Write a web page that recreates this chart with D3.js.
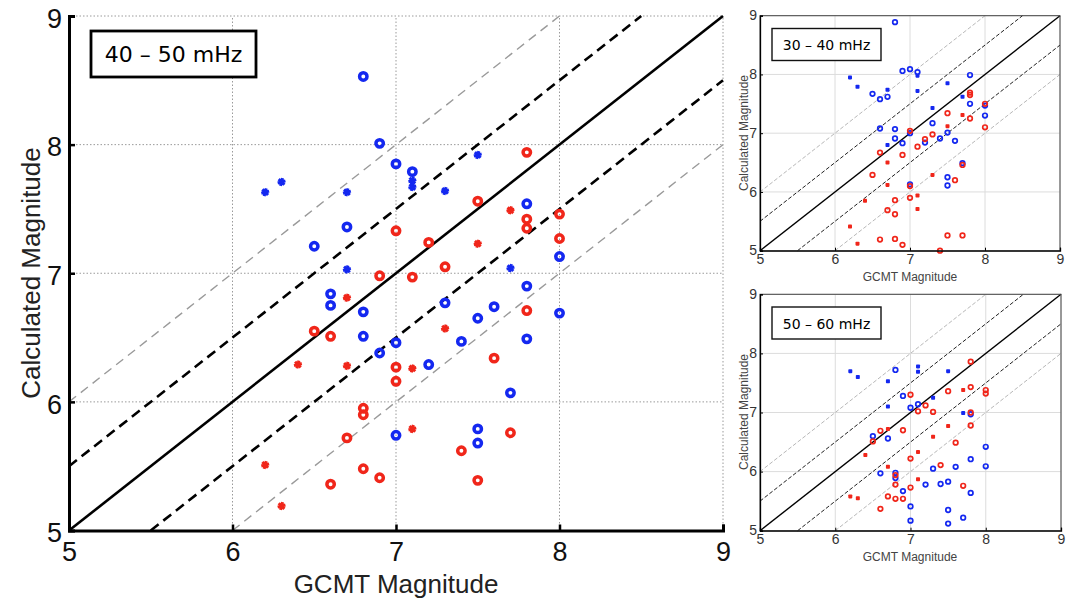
<!DOCTYPE html>
<html><head><meta charset="utf-8">
<script src="https://cdn.jsdelivr.net/npm/d3@7"></script>
<style>body{margin:0;background:#fff}svg{display:block}</style>
</head><body>
<svg id="c" width="1077" height="602"></svg>
<script>
// ---------- data ----------
const tickValues = [5, 6, 7, 8, 9];
const gridValues = [6, 7, 8, 9];
const refOffsets = [0, 0.5, -0.5, 1, -1];
const xLabel = "GCMT Magnitude";
const yLabel = "Calculated Magnitude";
const bandLabels = ["40 \u2013 50 mHz", "30 \u2013 40 mHz", "50 \u2013 60 mHz"];

// 40-50 mHz (main)
const mainBlueRing = [[6.8,8.53],[6.9,8.01],[7.0,7.85],[7.1,7.79],[6.7,7.36],[6.5,7.21],[7.8,7.54],[8.0,7.13],[6.6,6.84],[6.6,6.75],[6.8,6.70],[6.8,6.51],[7.0,6.46],[6.9,6.38],[7.8,6.90],[7.3,6.77],[7.6,6.74],[8.0,6.69],[7.5,6.65],[7.4,6.47],[7.8,6.49],[7.2,6.29],[7.7,6.07],[7.0,5.74],[7.5,5.79],[7.5,5.68]];
const mainBlueStar = [[6.2,7.63],[6.3,7.71],[6.7,7.63],[7.1,7.72],[7.1,7.67],[7.5,7.92],[7.3,7.64],[6.7,7.03],[7.7,7.04]];
const mainRedRing = [[7.0,7.33],[6.9,6.98],[7.8,7.94],[7.5,7.56],[7.8,7.42],[7.8,7.35],[8.0,7.46],[7.2,7.24],[8.0,7.27],[7.3,7.05],[7.1,6.97],[6.5,6.55],[6.6,6.51],[7.0,6.27],[7.0,6.16],[6.8,5.95],[6.8,5.90],[6.7,5.72],[6.8,5.48],[6.9,5.41],[6.6,5.36],[7.8,6.71],[7.6,6.34],[7.7,5.76],[7.4,5.62],[7.5,5.39]];
const mainRedStar = [[7.7,7.49],[7.5,7.23],[6.7,6.81],[6.4,6.29],[6.7,6.28],[6.2,5.51],[6.3,5.19],[7.3,6.57],[7.1,6.26],[7.1,5.79]];

// 30-40 mHz (top right)
const topBlueRing = [[6.8,8.89],[6.9,8.06],[7.0,8.09],[7.1,8.04],[7.8,7.99],[6.5,7.67],[6.6,7.58],[6.7,7.62],[7.8,7.50],[8.0,7.47],[8.0,7.30],[6.6,7.08],[6.8,7.07],[7.0,7.00],[6.8,6.91],[6.9,6.83],[7.2,6.84],[7.3,7.17],[7.4,6.91],[7.5,7.01],[7.6,6.87],[7.7,6.49],[7.5,6.25],[7.5,6.11],[7.0,6.13]];
const topBlueDot = [[6.2,7.95],[6.3,7.79],[6.7,7.74],[7.1,7.98],[7.1,7.72],[7.5,7.85],[7.3,7.43],[7.7,7.62],[6.7,6.80]];
const topRedRing = [[7.8,7.69],[7.8,7.65],[8.0,7.50],[7.5,7.34],[7.8,7.25],[8.0,7.10],[7.0,7.04],[7.3,6.98],[7.2,6.90],[7.1,6.77],[6.6,6.67],[6.9,6.63],[7.7,6.46],[6.5,6.29],[7.6,6.20],[7.0,6.10],[7.0,5.90],[6.8,5.86],[6.7,5.69],[6.8,5.62],[6.6,5.19],[6.8,5.20],[6.9,5.10],[7.5,5.26],[7.7,5.26],[7.4,5.00]];
const topRedDot = [[7.5,7.12],[7.7,7.31],[6.7,6.50],[7.3,6.29],[6.7,6.12],[6.4,5.85],[7.1,5.94],[7.1,5.71],[6.2,5.41],[6.3,5.12]];

// 50-60 mHz (bottom right)
const botBlueRing = [[6.8,7.72],[6.9,7.28],[7.0,7.08],[7.1,7.14],[6.5,6.60],[6.7,6.56],[7.8,6.97],[8.0,6.42],[8.0,6.09],[7.8,6.21],[7.6,6.08],[7.3,6.05],[6.6,5.97],[6.8,5.98],[6.8,5.89],[7.2,5.78],[7.4,5.79],[7.5,5.83],[7.8,5.64],[6.9,5.67],[7.0,5.41],[7.0,5.17],[7.5,5.35],[7.5,5.12],[7.7,5.22]];
const botBlueDot = [[6.2,7.70],[6.3,7.60],[6.7,7.53],[7.1,7.78],[7.1,7.69],[7.5,7.70],[7.3,7.25],[6.7,7.10],[7.7,6.99]];
const botRedRing = [[7.8,7.86],[7.8,7.43],[8.0,7.38],[8.0,7.32],[7.5,7.36],[7.0,7.30],[7.2,7.12],[7.1,7.02],[7.3,7.01],[7.8,7.00],[7.8,6.78],[6.6,6.69],[6.9,6.70],[6.5,6.51],[7.6,6.49],[7.0,6.22],[7.4,6.11],[6.8,5.94],[6.8,5.78],[7.0,5.73],[7.7,5.76],[6.7,5.58],[6.8,5.54],[6.9,5.54],[6.6,5.37]];
const botRedDot = [[6.7,6.72],[7.7,7.38],[7.5,6.77],[7.3,6.59],[6.4,6.28],[7.1,6.33],[6.7,6.08],[7.1,5.87],[6.2,5.58],[6.3,5.55]];

// ---------- drawing ----------
const BLUE = "#1428f0", RED = "#f0261a";
const svg = d3.select("#c");

function refLines(g, x, y, styles) {
  refOffsets.forEach((o, i) => {
    const x0 = Math.max(5, 5 - o), x1 = Math.min(9, 9 - o);
    const s = styles[i];
    g.append("line")
      .attr("x1", x(x0)).attr("y1", y(x0 + o))
      .attr("x2", x(x1)).attr("y2", y(x1 + o))
      .attr("stroke", s.c).attr("stroke-width", s.w)
      .attr("stroke-dasharray", s.d || null);
  });
}

function rings(g, data, x, y, color, r, w) {
  g.selectAll(null).data(data).enter().append("circle")
    .attr("cx", d => x(d[0])).attr("cy", d => y(d[1])).attr("r", r)
    .attr("fill", "none").attr("stroke", color).attr("stroke-width", w);
}
function stars(g, data, x, y, color, size, w) {
  const p = d3.symbol(d3.symbolAsterisk, size)();
  g.selectAll(null).data(data).enter().append("path")
    .attr("d", p).attr("transform", d => `translate(${x(d[0])},${y(d[1])}) rotate(15)`)
    .attr("fill", "none").attr("stroke", color).attr("stroke-width", w);
}
function dots(g, data, x, y, color, s) {
  g.selectAll(null).data(data).enter().append("rect")
    .attr("x", d => x(d[0]) - s / 2).attr("y", d => y(d[1]) - s / 2)
    .attr("width", s).attr("height", s).attr("rx", 0.8).attr("fill", color);
}

// ===== main panel =====
(function () {
  const x = d3.scaleLinear().domain([5, 9]).range([69, 723]);
  const y = d3.scaleLinear().domain([5, 9]).range([530.5, 16]);
  const g = svg.append("g");
  gridValues.forEach(v => {
    g.append("line").attr("x1", x(v)).attr("x2", x(v)).attr("y1", y(5)).attr("y2", y(9))
      .attr("stroke", "#9a9a9a").attr("stroke-width", 1).attr("stroke-dasharray", "1.5,2");
    g.append("line").attr("y1", y(v)).attr("y2", y(v)).attr("x1", x(5)).attr("x2", x(9))
      .attr("stroke", "#9a9a9a").attr("stroke-width", 1).attr("stroke-dasharray", "1.5,2");
  });
  refLines(g, x, y, [
    {c: "#000", w: 2.6},
    {c: "#000", w: 2.6, d: "10,6"},
    {c: "#000", w: 2.6, d: "10,6"},
    {c: "#9a9a9a", w: 1.4, d: "9,6"},
    {c: "#9a9a9a", w: 1.4, d: "9,6"}
  ]);
  rings(g, mainBlueRing, x, y, BLUE, 3.7, 3.5);
  rings(g, mainRedRing, x, y, RED, 3.7, 3.5);
  stars(g, mainBlueStar, x, y, BLUE, 45, 3);
  stars(g, mainRedStar, x, y, RED, 45, 3);
  const ax = g.append("g").attr("transform", `translate(0,${y(5)})`)
    .call(d3.axisBottom(x).tickValues(tickValues).tickSize(-6).tickPadding(14).tickFormat(d3.format("d")));
  const ay = g.append("g").attr("transform", `translate(${x(5)},0)`)
    .call(d3.axisLeft(y).tickValues(tickValues).tickSize(-6).tickPadding(7).tickFormat(d3.format("d")));
  [ax, ay].forEach(a => {
    a.select(".domain").attr("stroke", "#000").attr("stroke-width", 3);
    a.selectAll(".tick line").attr("stroke", "#000").attr("stroke-width", 2.5);
    a.selectAll(".tick text").attr("font-family", "Liberation Sans, Arial, sans-serif")
      .attr("font-size", 27).attr("fill", "#111");
  });
  ay.selectAll(".tick text").attr("dy", "0.42em");
  ax.selectAll(".tick text").attr("dy", "0.6em");
  g.append("text").attr("x", 396).attr("y", 593).attr("text-anchor", "middle")
    .attr("font-family", "Liberation Sans, Arial, sans-serif").attr("font-size", 26).attr("fill", "#222")
    .text(xLabel);
  g.append("text").attr("transform", "translate(40,273) rotate(-90)").attr("text-anchor", "middle")
    .attr("font-family", "Liberation Sans, Arial, sans-serif").attr("font-size", 26).attr("fill", "#222")
    .text(yLabel);
  g.append("rect").attr("x", 91).attr("y", 31).attr("width", 165).attr("height", 46)
    .attr("fill", "#fff").attr("stroke", "#000").attr("stroke-width", 2.8);
  g.append("text").attr("x", 173.5).attr("y", 62).attr("text-anchor", "middle")
    .attr("font-family", "DejaVu Sans, sans-serif").attr("font-size", 22).attr("fill", "#000")
    .text(bandLabels[0]);
})();

// ===== small panels =====
function small(cfg) {
  const x = d3.scaleLinear().domain([5, 9]).range([cfg.x0, cfg.x1]);
  const y = d3.scaleLinear().domain([5, 9]).range([cfg.y0, cfg.y1]);
  const g = svg.append("g");
  gridValues.forEach(v => {
    g.append("line").attr("x1", x(v)).attr("x2", x(v)).attr("y1", y(5)).attr("y2", y(9))
      .attr("stroke", "#dcdcdc").attr("stroke-width", 1);
    g.append("line").attr("y1", y(v)).attr("y2", y(v)).attr("x1", x(5)).attr("x2", x(9))
      .attr("stroke", "#dcdcdc").attr("stroke-width", 1);
  });
  refLines(g, x, y, [
    {c: "#000", w: 1.4},
    {c: "#222", w: 1, d: "4,2"},
    {c: "#222", w: 1, d: "4,2"},
    {c: "#b8b8b8", w: 1, d: "4,2"},
    {c: "#b8b8b8", w: 1, d: "4,2"}
  ]);
  rings(g, cfg.blueRing, x, y, BLUE, 2.3, 1.7);
  rings(g, cfg.redRing, x, y, RED, 2.3, 1.7);
  dots(g, cfg.blueDot, x, y, BLUE, 4);
  dots(g, cfg.redDot, x, y, RED, 4);
  g.append("rect").attr("x", x(5)).attr("y", y(9)).attr("width", x(9) - x(5)).attr("height", y(5) - y(9))
    .attr("fill", "none").attr("stroke", "#444").attr("stroke-width", 1);
  const ax = g.append("g").attr("transform", `translate(0,${y(5)})`)
    .call(d3.axisBottom(x).tickValues(tickValues).tickSize(-3).tickPadding(6).tickFormat(d3.format("d")));
  const ay = g.append("g").attr("transform", `translate(${x(5)},0)`)
    .call(d3.axisLeft(y).tickValues(tickValues).tickSize(-3).tickPadding(3).tickFormat(d3.format("d")));
  [ax, ay].forEach(a => {
    a.select(".domain").attr("stroke", "#000").attr("stroke-width", 1.3);
    a.selectAll(".tick line").attr("stroke", "#000");
    a.selectAll(".tick text").attr("font-family", "Liberation Sans, Arial, sans-serif")
      .attr("font-size", 14).attr("fill", "#333");
  });
  ax.selectAll(".tick text").attr("dy", "0.5em");
  ay.selectAll(".tick text").attr("dy", "0.3em");
  g.append("text").attr("x", 910).attr("y", cfg.xlabY).attr("text-anchor", "middle")
    .attr("font-family", "Liberation Sans, Arial, sans-serif").attr("font-size", 12).attr("fill", "#444")
    .text(xLabel);
  g.append("text").attr("transform", `translate(748,${cfg.ylabY}) rotate(-90)`).attr("text-anchor", "middle")
    .attr("font-family", "Liberation Sans, Arial, sans-serif").attr("font-size", 12).attr("fill", "#444")
    .text(yLabel);
  g.append("rect").attr("x", 772).attr("y", cfg.boxY).attr("width", 109).attr("height", 32)
    .attr("fill", "#fff").attr("stroke", "#111").attr("stroke-width", 1.4);
  g.append("text").attr("x", 826.5).attr("y", cfg.boxY + 21.5).attr("text-anchor", "middle")
    .attr("font-family", "DejaVu Sans, sans-serif").attr("font-size", 14).attr("fill", "#000")
    .text(cfg.label);
}
small({x0: 760, x1: 1060, y0: 250.7, y1: 15.7, xlabY: 281, ylabY: 133, boxY: 28.5,
  label: bandLabels[1], blueRing: topBlueRing, redRing: topRedRing, blueDot: topBlueDot, redDot: topRedDot});
small({x0: 760, x1: 1061, y0: 530.7, y1: 294.3, xlabY: 561, ylabY: 412, boxY: 307,
  label: bandLabels[2], blueRing: botBlueRing, redRing: botRedRing, blueDot: botBlueDot, redDot: botRedDot});
</script>
</body></html>
